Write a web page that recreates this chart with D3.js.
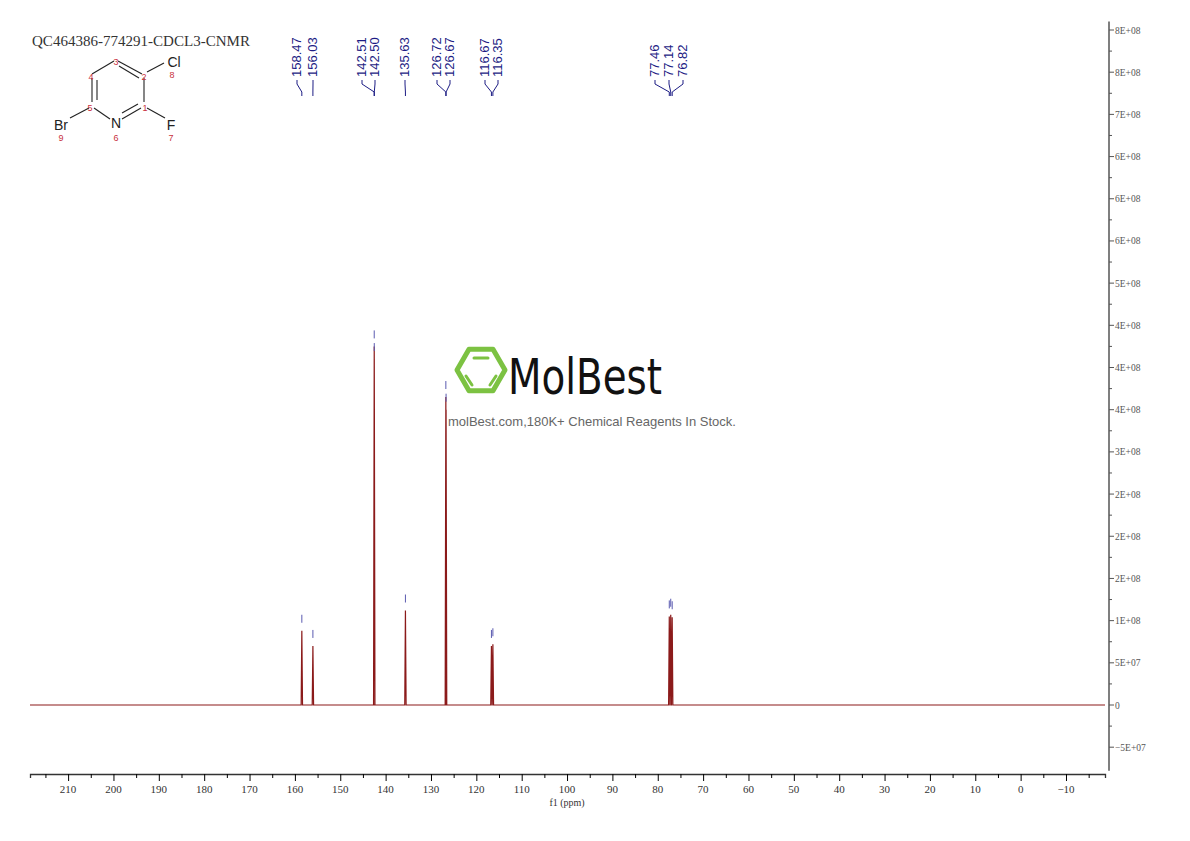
<!DOCTYPE html>
<html><head><meta charset="utf-8">
<script src="https://cdn.jsdelivr.net/npm/d3@7"></script>
<style>body{margin:0;background:#fff}</style>
</head><body>
<svg id="spectre" width="1190" height="841"></svg>
<script>
// DONNÉES
const picsPpm = [158.47, 156.03, 142.51, 142.50, 135.63, 126.72, 126.67, 116.67, 116.35, 77.46, 77.14, 76.82]
const picsHauteur = [8.8e7, 7.0e7, 4.25e8, 4.1e8, 1.12e8, 3.65e8, 3.5e8, 7.0e7, 7.2e7, 1.05e8, 1.07e8, 1.04e8]
const etiquettesPpm = ['158.47','156.03','142.51','142.50','135.63','126.72','126.67','116.67','116.35','77.46','77.14','76.82']
const etiquettesX = [297, 313, 362, 375, 405, 437, 450, 485, 498, 655, 669, 683]
const ticksY = [8e8, 7.5e8, 7e8, 6.5e8, 6e8, 5.5e8, 5e8, 4.5e8, 4e8, 3.5e8, 3e8, 2.5e8, 2e8, 1.5e8, 1e8, 5e7, 0, -5e7]
const etiquettesY = ['8E+08','8E+08','7E+08','6E+08','6E+08','6E+08','5E+08','4E+08','4E+08','4E+08','3E+08','2E+08','2E+08','2E+08','1E+08','5E+07','0','\u22125E+07']
const ticksX = [210, 200, 190, 180, 170, 160, 150, 140, 130, 120, 110, 100, 90, 80, 70, 60, 50, 40, 30, 20, 10, 0, -10]

const svg = d3.select('#spectre')
const x = d3.scaleLinear().domain([218.4, -18.6]).range([30, 1105])
const y = d3.scaleLinear().domain([0, 8e8]).range([705, 30])
const rouge = '#8b1a1a', bleu = '#1c1c84', rose = '#c8303c'

// Axe X
const axeX = svg.append('g').attr('transform', 'translate(0,774)')
    .call(d3.axisBottom(x).tickValues(d3.range(215, -20, -5)).tickSize(4).tickFormat(''))
axeX.selectAll('.tick line').filter(d => d % 10 === 0).attr('y2', 7)
axeX.append('g').selectAll('text').data(ticksX).join('text')
    .attr('x', d => x(d)).attr('y', 19).attr('text-anchor', 'middle')
    .attr('font-family', 'Liberation Serif, serif').attr('font-size', 11).attr('fill', '#333')
    .text(d => d === -10 ? '\u221210' : d)
axeX.select('.domain').attr('stroke', '#333').attr('stroke-width', 1.3)
svg.append('text').attr('x', x(100)).attr('y', 806).attr('text-anchor', 'middle')
    .attr('font-family', 'Liberation Serif, serif').attr('font-size', 10).attr('fill', '#333').text('f1 (ppm)')

// Axe Y (à droite)
const axeY = svg.append('g').attr('transform', 'translate(1109,0)')
axeY.append('line').attr('x1', 0).attr('x2', 0).attr('y1', y(8.1e8)).attr('y2', y(-7.8e7)).attr('stroke', '#555').attr('stroke-width', 1.5)
axeY.selectAll('.maj').data(ticksY).join('line').attr('class', 'maj')
    .attr('x1', 0).attr('x2', 5).attr('y1', d => y(d)).attr('y2', d => y(d)).attr('stroke', '#555')
axeY.selectAll('.min').data(ticksY.slice(0, -1).map(d => d - 2.5e7)).join('line').attr('class', 'min')
    .attr('x1', 0).attr('x2', 3).attr('y1', d => y(d)).attr('y2', d => y(d)).attr('stroke', '#555')
axeY.selectAll('text').data(ticksY).join('text')
    .attr('x', 6).attr('y', d => y(d) + 3.5)
    .attr('font-family', 'Liberation Serif, serif').attr('font-size', 9.5).attr('fill', '#555')
    .text((d, i) => etiquettesY[i])

// Spectre : ligne de base + pics fins
const points = [[218.4, 0]]
picsPpm.map((p, i) => [p, picsHauteur[i]]).sort((a, b) => b[0] - a[0]).forEach(([p, h]) => {
    points.push([p + 0.15, 0], [p, h], [p - 0.15, 0])
})
points.push([-18.6, 0])
svg.append('path').datum(points)
    .attr('d', d3.line().x(d => x(d[0])).y(d => y(d[1])))
    .attr('fill', 'none').attr('stroke', rouge).attr('stroke-width', 1.2)

// Petits repères bleus au sommet des pics
svg.selectAll('.rep').data(picsPpm).join('line').attr('class', 'rep')
    .attr('x1', d => x(d)).attr('x2', d => x(d))
    .attr('y1', (d, i) => y(picsHauteur[i]) - 16).attr('y2', (d, i) => y(picsHauteur[i]) - 8)
    .attr('stroke', '#5a5ab0').attr('stroke-width', 1)

// Étiquettes des pics (verticales) et connecteurs
const grpEt = svg.append('g')
etiquettesPpm.forEach((t, i) => {
    grpEt.append('text').attr('transform', `translate(${etiquettesX[i] + 4},77) rotate(-90)`)
        .attr('font-family', 'Liberation Sans, Arial, sans-serif').attr('font-size', 13).attr('fill', bleu).text(t)
    const xp = x(picsPpm[i])
    grpEt.append('path').attr('d', `M${etiquettesX[i]},80 L${etiquettesX[i]},84 L${xp},92 L${xp},96`)
        .attr('fill', 'none').attr('stroke', bleu).attr('stroke-width', 1)
})

// Titre
svg.append('text').attr('x', 32).attr('y', 46).attr('font-family', 'Liberation Serif, serif')
    .attr('font-size', 14).attr('textLength', 218).attr('lengthAdjust', 'spacingAndGlyphs')
    .attr('fill', '#333').text('QC464386-774291-CDCL3-CNMR')

// Structure moléculaire
const mol = svg.append('g').attr('stroke', '#222').attr('stroke-width', 1.1)
const seg = (x1, y1, x2, y2) => mol.append('line').attr('x1', x1).attr('y1', y1).attr('x2', x2).attr('y2', y2)
seg(92, 74, 114, 61)      // C4-C3
seg(118, 61, 142, 74)     // C3-C2
seg(119, 66, 139, 78)     // double C3=C2
seg(144, 78, 144, 102)    // C2-C1
seg(141, 108, 122, 119)   // C1-N
seg(138, 104, 122, 113)   // double C1=N
seg(110, 119, 94, 108)    // N-C5
seg(92, 102, 92, 78)      // C5-C4
seg(97, 100, 97, 80)      // double C5=C4
seg(147, 72, 164, 63)     // C2-Cl
seg(147, 108, 165, 118)   // C1-F
seg(89, 108, 70, 118)     // C5-Br
const txt = (t, xx, yy, c, s) => svg.append('text').attr('x', xx).attr('y', yy).attr('text-anchor', 'middle')
    .attr('font-family', 'Liberation Sans, Arial, sans-serif').attr('font-size', s).attr('fill', c).text(t)
txt('Cl', 174, 67, '#222', 14); txt('8', 172, 78, rose, 9)
txt('F', 171, 130, '#222', 14); txt('7', 171, 141, rose, 9)
txt('N', 116, 128, '#222', 14); txt('6', 116, 141, rose, 9)
txt('Br', 61, 130, '#222', 14); txt('9', 61, 141, rose, 9)
txt('3', 116, 65, rose, 9); txt('2', 144, 80, rose, 9); txt('1', 145, 111, rose, 9)
txt('5', 90, 111, rose, 9); txt('4', 91, 80, rose, 9)

// Filigrane MolBest
const logo = svg.append('g')
const hex = d3.range(6).map(k => [481 + 24 * Math.cos(k * Math.PI / 3), 370 + 24 * Math.sin(k * Math.PI / 3)])
logo.append('polygon').attr('points', hex.map(p => p.join(',')).join(' '))
    .attr('fill', 'none').attr('stroke', '#7cc242').attr('stroke-width', 5).attr('stroke-linejoin', 'round')
logo.append('line').attr('x1', 474).attr('x2', 488).attr('y1', 358).attr('y2', 358).attr('stroke', '#7cc242').attr('stroke-width', 3).attr('stroke-linecap', 'round')
logo.append('line').attr('x1', 466).attr('x2', 472).attr('y1', 376).attr('y2', 385).attr('stroke', '#7cc242').attr('stroke-width', 3).attr('stroke-linecap', 'round')
logo.append('line').attr('x1', 496).attr('x2', 490).attr('y1', 376).attr('y2', 385).attr('stroke', '#7cc242').attr('stroke-width', 3).attr('stroke-linecap', 'round')
logo.append('text').attr('x', 508).attr('y', 394).attr('font-family', 'DejaVu Sans Condensed, sans-serif')
    .attr('font-size', 50).attr('textLength', 154).attr('lengthAdjust', 'spacingAndGlyphs').attr('fill', '#111').text('MolBest')
logo.append('text').attr('x', 448).attr('y', 426).attr('font-family', 'Liberation Sans, Arial, sans-serif')
    .attr('font-size', 13).attr('fill', '#666').text('molBest.com,180K+ Chemical Reagents In Stock.')
</script>
</body></html>
